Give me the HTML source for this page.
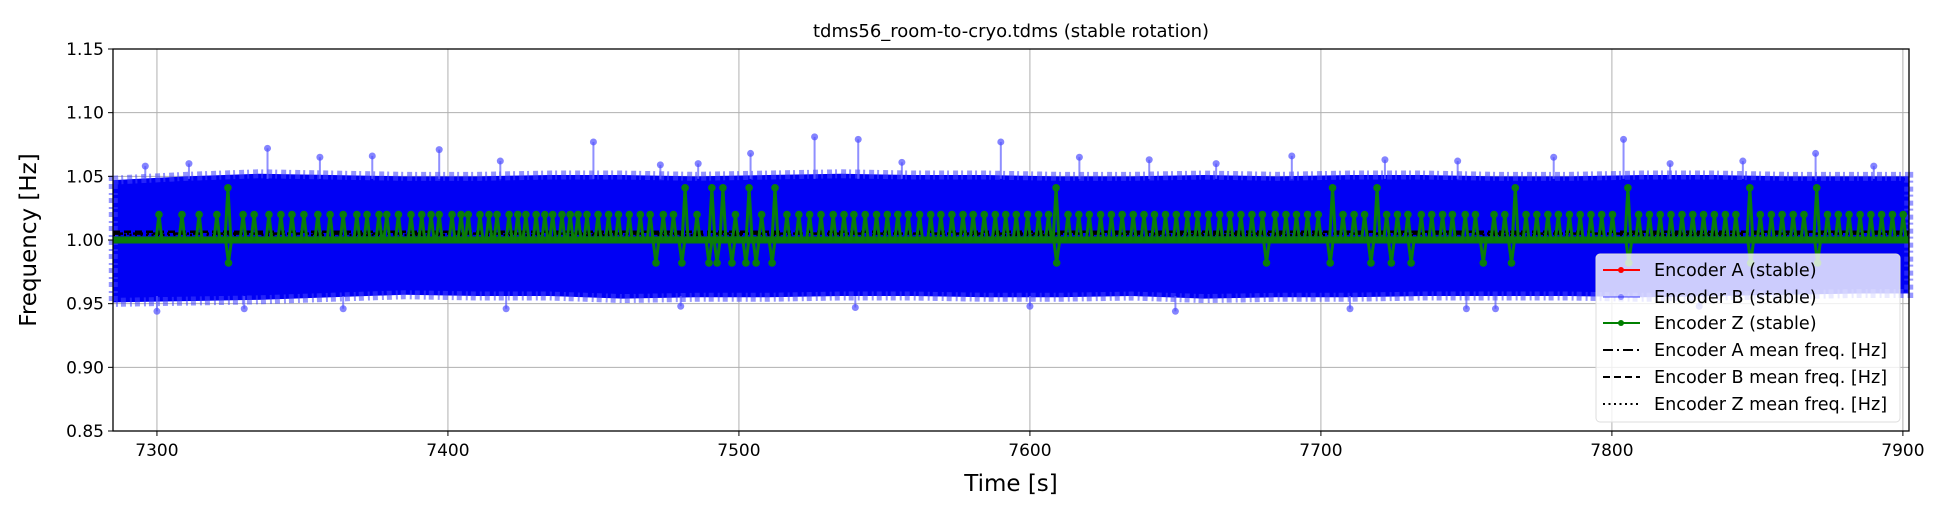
<!DOCTYPE html>
<html><head><meta charset="utf-8"><style>
html,body{margin:0;padding:0;background:#fff;}
svg{display:block;font-family:"DejaVu Sans","Liberation Sans",sans-serif;}
</style></head><body>
<svg id="chart" width="1950" height="520" viewBox="0 0 1950 520" xmlns="http://www.w3.org/2000/svg">
<rect width="1950" height="520" fill="#fff"/>
<text x="1011" y="37" font-size="18" text-anchor="middle">tdms56_room-to-cryo.tdms (stable rotation)</text>
<g id="grid"></g>
<g id="plot"></g>
<rect x="113" y="49" width="1796" height="382" fill="none" stroke="#000" stroke-width="1.3"/>
<g id="ticks"></g>
<text x="1011" y="491" font-size="23" text-anchor="middle">Time [s]</text>
<text transform="translate(36,240) rotate(-90)" font-size="23" text-anchor="middle">Frequency [Hz]</text>
<g>
<rect x="1596" y="254" width="304" height="168" rx="4" fill="#fff" fill-opacity="0.8" stroke="#ddd"/>
<g><line x1="1603" y1="270" x2="1640" y2="270" stroke="#f00" stroke-width="2"/><circle cx="1621" cy="270" r="3" fill="#f00"/><text x="1654" y="276" font-size="17.6">Encoder A (stable)</text></g>
<g><line x1="1603" y1="297" x2="1640" y2="297" stroke="#00f" stroke-opacity="0.35" stroke-width="2"/><circle cx="1621" cy="297" r="3" fill="#00f" fill-opacity="0.35"/><text x="1654" y="303" font-size="17.6">Encoder B (stable)</text></g>
<g><line x1="1603" y1="323" x2="1640" y2="323" stroke="#008000" stroke-width="2"/><circle cx="1621" cy="323" r="3" fill="#008000"/><text x="1654" y="329" font-size="17.6">Encoder Z (stable)</text></g>
<g><line x1="1603" y1="350" x2="1640" y2="350" stroke="#000" stroke-width="2" stroke-dasharray="10,4,2,4"/><text x="1654" y="356" font-size="17.6">Encoder A mean freq. [Hz]</text></g>
<g><line x1="1603" y1="377" x2="1640" y2="377" stroke="#000" stroke-width="2" stroke-dasharray="7,4"/><text x="1654" y="383" font-size="17.6">Encoder B mean freq. [Hz]</text></g>
<g><line x1="1603" y1="404" x2="1640" y2="404" stroke="#000" stroke-width="2" stroke-dasharray="2,3.5"/><text x="1654" y="410" font-size="17.6">Encoder Z mean freq. [Hz]</text></g>
</g>
</svg>
<script>
const xTicks=[7300,7400,7500,7600,7700,7800,7900];
const yTicks=[0.85,0.90,0.95,1.00,1.05,1.10,1.15];
const yTickLabels=["0.85","0.90","0.95","1.00","1.05","1.10","1.15"];
const bandTimes=[7285,7310,7335,7360,7385,7410,7435,7460,7485,7510,7535,7560,7585,7610,7635,7660,7685,7710,7735,7760,7785,7810,7835,7860,7885,7902];
const bandUpper=[1.047,1.050,1.052,1.051,1.050,1.050,1.051,1.051,1.050,1.051,1.052,1.051,1.051,1.050,1.050,1.051,1.050,1.051,1.051,1.050,1.050,1.051,1.051,1.050,1.050,1.050];
const bandLower=[0.951,0.952,0.953,0.955,0.957,0.956,0.956,0.954,0.955,0.955,0.956,0.956,0.955,0.955,0.956,0.954,0.955,0.955,0.956,0.956,0.956,0.955,0.956,0.957,0.958,0.958];
const outlierTimes=[7296,7311,7338,7356,7374,7397,7418,7450,7473,7486,7504,7526,7541,7556,7590,7617,7641,7664,7690,7722,7747,7780,7804,7820,7845,7870,7890,7300,7330,7364,7420,7480,7540,7600,7650,7710,7750,7760,7830];
const outlierValues=[1.058,1.060,1.072,1.065,1.066,1.071,1.062,1.077,1.059,1.060,1.068,1.081,1.079,1.061,1.077,1.065,1.063,1.060,1.066,1.063,1.062,1.065,1.079,1.060,1.062,1.068,1.058,0.944,0.946,0.946,0.946,0.948,0.947,0.948,0.944,0.946,0.946,0.946,0.948];
const zBase=1.0;
const zSpikeTimes=[7300.7,7308.6,7314.5,7320.6,7329.6,7333.4,7338.5,7342.6,7346.4,7350.5,7355.3,7359.5,7364,7368.7,7372.2,7376.3,7379,7383,7387.3,7391,7394.2,7397,7401.4,7404.5,7407,7411,7414.1,7416.9,7421,7424,7426.8,7430.3,7433.3,7436,7439.2,7442,7444.7,7447.8,7451.6,7455.2,7458.6,7462.3,7466.1,7469.5,7474,7477.5,7485.6,7498.8,7507.8,7516.5,7520.6,7524.3,7528.2,7532.4,7536.1,7539.5,7543.4,7547.3,7551,7554.6,7558.2,7562.1,7565.9,7569.4,7573.2,7577,7580.5,7584.3,7588.1,7591.7,7595.3,7599.2,7603,7606.4,7613.1,7616.8,7620.4,7624.3,7628,7631.7,7635.5,7639.2,7642.8,7646.6,7650.3,7654.1,7657.6,7661.4,7665.2,7668.8,7672.5,7676.3,7679.9,7684.3,7688,7691.6,7695.4,7699.1,7707.6,7711.4,7715,7722.6,7726.3,7729.9,7734.5,7738.1,7741.8,7745.2,7749.6,7753.1,7759.5,7763.2,7770.5,7774.2,7778,7781.6,7785.4,7789.1,7792.8,7796.5,7800.2,7809.2,7812.9,7816.6,7820.3,7824.1,7827.8,7831.5,7835.2,7839,7842.6,7851,7854.8,7858.5,7862.3,7866,7874.1,7877.8,7881.5,7885.3,7889,7892.7,7896.4,7900.1];
const zSpikeValue=1.020;
const zBigUpTimes=[7324.4,7481.5,7490.7,7494.5,7503.5,7512.4,7609,7704,7719.3,7766.8,7805.5,7847.4,7870.4];
const zBigUpValue=1.041;
const zDipTimes=[7324.6,7471.5,7480.4,7489.7,7492.5,7497.6,7502.4,7505.9,7511.4,7609.2,7681.3,7703.2,7717.2,7724.2,7731,7755.8,7765.5,7805.8,7847.7,7870.7];
const zDipValue=0.982;
const meanA=1.005, meanB=1.0065, meanZ=1.004;

const X0=7284.9,X1=7902.1,PX0=113,PX1=1909,Y0=0.85,Y1=1.15,PY0=431,PY1=49;
const sx=t=>PX0+(t-X0)/(X1-X0)*(PX1-PX0);
const sy=v=>PY0+(v-Y0)/(Y1-Y0)*(PY1-PY0);
const NS="http://www.w3.org/2000/svg";
function mk(tag,attrs,parent){const e=document.createElementNS(NS,tag);for(const k in attrs)e.setAttribute(k,attrs[k]);parent.appendChild(e);return e;}
const grid=document.getElementById('grid'),plot=document.getElementById('plot'),ticks=document.getElementById('ticks');
xTicks.forEach(t=>{
 const g=mk('line',{x1:sx(t),x2:sx(t),y1:PY1,y2:PY0,stroke:'#b0b0b0','stroke-width':1},grid);
 
 
 const tk=mk('line',{x1:sx(t),x2:sx(t),y1:PY0,y2:PY0+5,stroke:'#000'},ticks);
 
 
 const tx=mk('text',{x:sx(t),y:PY0+25,'font-size':17,'text-anchor':'middle'},ticks);
 tx.textContent=t;
 
 
});
yTicks.forEach((v,i)=>{
 const g=mk('line',{x1:PX0,x2:PX1,y1:sy(v),y2:sy(v),stroke:'#b0b0b0','stroke-width':1},grid);
 
 
 const tk=mk('line',{x1:PX0-5,x2:PX0,y1:sy(v),y2:sy(v),stroke:'#000'},ticks);
 
 
 const tx=mk('text',{x:PX0-9,y:sy(v)+6,'font-size':17,'text-anchor':'end'},ticks);
 tx.textContent=yTickLabels[i];
 
 
});
let d='M'+bandTimes.map((t,i)=>sx(t)+','+sy(bandUpper[i])).join(' L');
d+=' L'+bandTimes.slice().reverse().map((t,i)=>sx(t)+','+sy(bandLower[bandTimes.length-1-i])).join(' L')+' Z';
const band=mk('path',{d:d,fill:'#0000f4'},plot);


const edge=mk('path',{d:d,fill:'none',stroke:'#4040ff','stroke-width':9,'stroke-opacity':0.55,'stroke-dasharray':'5,3,2,4'},plot);


outlierTimes.forEach((t,i)=>{
 const v=outlierValues[i];const base=v>1?1.048:0.956;
 const s=mk('line',{x1:sx(t),x2:sx(t),y1:sy(base),y2:sy(v),stroke:'#6060ff','stroke-width':2,'stroke-opacity':0.7},plot);
 
 
 const c=mk('circle',{cx:sx(t),cy:sy(v),r:3.5,fill:'#5050ff','fill-opacity':0.7},plot);
 
 
});
const evts=[];
zSpikeTimes.forEach(t=>evts.push([t,zSpikeValue]));
zBigUpTimes.forEach(t=>evts.push([t,zBigUpValue]));
zDipTimes.forEach(t=>evts.push([t,zDipValue]));
evts.sort((a,b)=>a[0]-b[0]);
let zd='M'+sx(X0)+','+sy(zBase);
evts.forEach(([t,v])=>{zd+=' L'+(sx(t)-3)+','+sy(zBase)+' L'+sx(t)+','+sy(v)+' L'+(sx(t)+3)+','+sy(zBase);});
zd+=' L'+sx(X1)+','+sy(zBase);
const zb=mk('line',{x1:PX0,x2:PX1,y1:sy(zBase),y2:sy(zBase),stroke:'#0a7a0a','stroke-width':7},plot);


[[meanA,'10,4,2,4'],[meanB,'7,4'],[meanZ,'2,3.5']].forEach(([m,da])=>{
 const l=mk('line',{x1:PX0,x2:PX1,y1:sy(m),y2:sy(m),stroke:'#000','stroke-width':2.5,'stroke-dasharray':da},plot);
 
 
});
const zl=mk('path',{d:zd,fill:'none',stroke:'#0a7d0a','stroke-width':3},plot);


evts.forEach(([t,v])=>{
 const c=mk('circle',{cx:sx(t),cy:sy(v),r:3.8,fill:'#0a7d0a'},plot);
 
 
});
</script>
</body></html>
